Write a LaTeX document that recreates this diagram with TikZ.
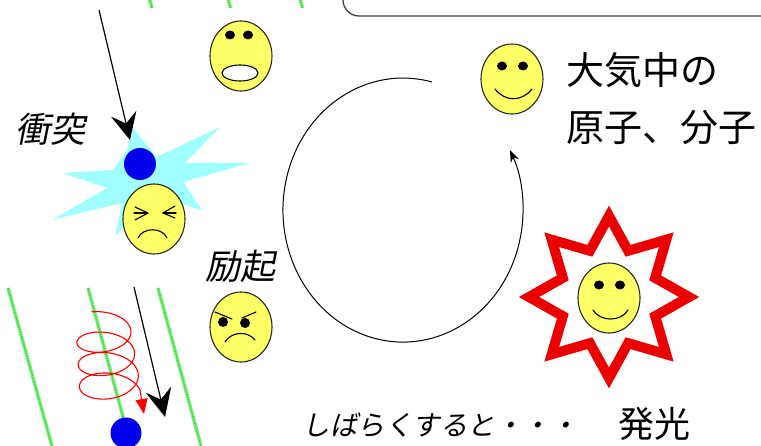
\documentclass[tikz,border=0pt]{standalone}
\usepackage{fontspec}
\newfontfamily\jp{Noto Sans CJK JP}
\newfontfamily\jpsl[FakeSlant=0.2]{Noto Sans CJK JP}
\usetikzlibrary{arrows.meta,shapes.geometric,calc}

\definecolor{faceyellow}{RGB}{255,255,102}
\definecolor{fieldgreen}{RGB}{120,240,120}
\definecolor{fielddot}{RGB}{40,200,40}
\definecolor{burstcyan}{RGB}{160,255,255}
\definecolor{ballblue}{RGB}{0,0,235}
\definecolor{flashred}{RGB}{235,0,0}

\tikzset{
  facebody/.style={ellipse, draw=black!85, line width=1.1pt, fill=faceyellow,
    minimum width=62pt, minimum height=70pt, inner sep=0pt},
  eyeblob/.style={fill=black},
  feature/.style={draw=black, line width=1.1pt, line cap=round, line join=round},
  fieldline/.style={draw=fieldgreen, line width=3.5pt},
  fieldtex/.style={draw=fielddot, line width=1.2pt, dash pattern=on 1pt off 1.5pt},
  thinarrow/.style={draw=black, line width=1.2pt},
  ball/.style={circle, fill=ballblue, inner sep=0pt},
  jptext/.style={inner sep=0pt, text=black},
}

\begin{document}
\begin{tikzpicture}[x=1pt,y=-1pt]
\clip (0,0) rectangle (761,446);
\fill[white] (0,0) rectangle (761,446);

% rounded frame entering from the top
\draw[black!75, line width=1.3pt, rounded corners=16pt] (343,-40) -- (343,16) -- (800,16);

% magnetic field lines
\foreach \a/\b in {{(148.5,-5)}/{(152,8)}, {(227,-5)}/{(230.5,8)}, {(299,-5)}/{(302.5,8)},
                   {(8,288)}/{(52,446)}, {(88,288)}/{(131,446)}, {(158,288)}/{(201,446)}} {
  \draw[fieldline] \a -- \b;
  \draw[fieldtex] \a -- \b;
}

% collision burst
\fill[burstcyan] (133,128) -- (157,157) -- (220,127) -- (185,163) -- (250,163)
  -- (183,182) -- (203,211) -- (172,200) -- (150,195) -- (115,237) -- (122,203)
  -- (52,220) -- (107,188) -- (62,173) -- (113,170) -- (127,150) -- cycle;

\node[ball, minimum size=32pt] (ballA) at (140,164) {};

% incoming particle (top)
\coordinate (inA) at (99,10);
\coordinate (hitA) at (130,140);
\draw[thinarrow, -{Stealth[length=27pt,width=26pt,inset=10pt]}] (inA) -- (hitA);

% faces
\node[facebody] (scared) at (241,56) {};
\node[facebody] (squint) at (154,219) {};
\node[facebody] (angry) at (241,327) {};
\node[facebody] (happy) at (512,79) {};

% scared face
\begin{scope}[shift={(scared.center)}]
  \fill[eyeblob] (-11,-21) ellipse [x radius=5, y radius=4.5];
  \fill[eyeblob] (7,-21) ellipse [x radius=5, y radius=4.5];
  \draw[fill=white, draw=black, line width=1.1pt] (-1,17) ellipse [x radius=18, y radius=8];
\end{scope}

% squinting face
\begin{scope}[shift={(squint.center)}]
  \draw[feature] (-19,-12) -- (-6,-6) -- (-19,1);
  \draw[feature] (-20,-6) -- (-7,-6);
  \draw[feature] (21,-13) -- (9,-6) -- (21,-1);
  \draw[feature] (9,-6) -- (22,-6);
  \draw[feature] (-16,19) .. controls (-11,8) and (8,8) .. (13,19);
\end{scope}

% angry face
\begin{scope}[shift={(angry.center)}]
  \fill[eyeblob] (-18,-5) ellipse [x radius=5, y radius=5];
  \fill[eyeblob] (4,-4) ellipse [x radius=5, y radius=5];
  \draw[feature] (-26,-15) -- (-9,-8);
  \draw[feature] (15,-15) -- (1,-9);
  \draw[feature] (-16,15) .. controls (-10,5) and (6,3) .. (14,13);
\end{scope}

% happy face
\begin{scope}[shift={(happy.center)}]
  \fill[eyeblob] (-10,-13) ellipse [x radius=5, y radius=4.5];
  \fill[eyeblob] (11,-13) ellipse [x radius=5, y radius=4.5];
  \draw[feature] (-17,10) .. controls (-7,23) and (10,23) .. (20,10);
\end{scope}

% emission star
\begin{scope}[shift={(609,297)}]
  \draw[flashred, line width=10pt, line join=miter, fill=white]
    (90:81) -- (112.5:50) -- (135:81) -- (157.5:50) -- (180:80) -- (202.5:50)
    -- (225:81) -- (247.5:50) -- (270:81) -- (292.5:50) -- (315:81) -- (337.5:50)
    -- (0:80) -- (22.5:50) -- (45:81) -- (67.5:50) -- cycle;
\end{scope}
\node[facebody] (glad) at (609,298) {};
\begin{scope}[shift={(glad.center)}]
  \fill[eyeblob] (-10,-13) ellipse [x radius=5, y radius=4.5];
  \fill[eyeblob] (11,-13) ellipse [x radius=5, y radius=4.5];
  \draw[feature] (-16,12) .. controls (-9,24) and (12,24) .. (19,12);
\end{scope}

% cycle of the atom
\coordinate (loopstart) at (432,82);
\draw[black, line width=1pt, -{Stealth[length=12pt,width=9pt]}]
  (loopstart) arc[start angle=-76, end angle=-387, x radius=120, y radius=132];

% spiralling electron along the field line
\coordinate (spiralend) at (144,414);
\draw[red, line width=1.1pt, -{Triangle[length=15pt,width=12pt]}]
  plot[domain=-25:1150, samples=320, smooth]
    ({103 + \x/146.25 + (27 + \x/292.5)*sin(\x)}, {326 + \x/16.4 - (14 + \x/234)*cos(\x)})
  -- (spiralend);

% incoming particle (bottom)
\coordinate (inB) at (134,287);
\coordinate (hitB) at (165,417);
\draw[thinarrow, -{Stealth[length=28pt,width=26pt,inset=10pt]}] (inB) -- (hitB);

\node[ball, minimum size=31pt] (ballB) at (126,433) {};

% labels
\node[jptext, font=\jpsl\fontsize{35}{35}\selectfont] (collide) at (51,129) {衝突};
\node[jptext, font=\jpsl\fontsize{35}{35}\selectfont] (excite) at (240,266) {励起};
\node[jptext, font=\jp\fontsize{38}{38}\selectfont, anchor=west] (air1) at (566,70) {大気中の};
\node[jptext, font=\jp\fontsize{38}{38}\selectfont, anchor=west] (air2) at (566,128) {原子、分子};
\node[jptext, font=\jpsl\fontsize{27.5}{27.5}\selectfont] (later) at (440,425) {しばらくすると・・・};
\node[jptext, font=\jp\fontsize{36}{36}\selectfont] (glow) at (654,424) {発光};
\end{tikzpicture}
\end{document}
